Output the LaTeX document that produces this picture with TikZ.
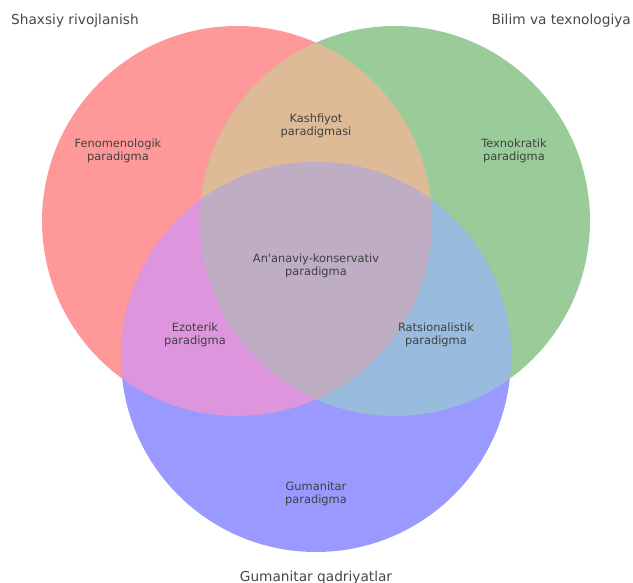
\documentclass[tikz,border=0pt]{standalone}
\usepackage{fontspec}
\setmainfont{DejaVu Sans}
\usepackage{xcolor}
\usepackage{tikz}

\definecolor{setred}{HTML}{FF9999}
\definecolor{setgreen}{HTML}{99CC99}
\definecolor{setblue}{HTML}{9999FF}
\definecolor{mixrg}{HTML}{DEBB97}
\definecolor{mixrb}{HTML}{DD95DD}
\definecolor{mixgb}{HTML}{99BBDE}
\definecolor{mixall}{HTML}{BFADC4}

\begin{document}
\begin{tikzpicture}[
		x=1pt, y=-1pt,
		% Defining consistent styles
		setlabel/.style={
				inner sep=0pt,
				font=\fontsize{13.7}{16}\selectfont,
				text=black!72
			},
		regionlabel/.style={
				inner sep=0pt,
				align=center,
				font=\fontsize{11.4}{13.2}\selectfont,
				text=black!75
			}
		]
		\useasboundingbox (0,0) rectangle (633,583);

		% Circle centres
		\coordinate (c_red) at (237,221);
		\coordinate (c_green) at (395,221);
		\coordinate (c_blue) at (316,357);

		% Single sets
		\fill[setred] (c_red) circle [radius=195pt];
		\fill[setgreen] (c_green) circle [radius=195pt];
		\fill[setblue] (c_blue) circle [radius=195pt];

		% Green and blue overlap
		\begin{scope}
			\clip (c_green) circle [radius=195pt];
			\fill[mixgb] (c_blue) circle [radius=195pt];
		\end{scope}

		% Red overlaps and centre
		\begin{scope}
			\clip (c_red) circle [radius=195pt];
			\fill[mixrg] (c_green) circle [radius=195pt];
			\fill[mixrb] (c_blue) circle [radius=195pt];
			\clip (c_green) circle [radius=195pt];
			\fill[mixall] (c_blue) circle [radius=195pt];
		\end{scope}

		% Set labels
		\node[setlabel, anchor=west] (lbl_personal) at (11,21) {Shaxsiy rivojlanish};
		\node[setlabel, anchor=east] (lbl_knowledge) at (631,21) {Bilim va texnologiya};
		\node[setlabel, anchor=base] (lbl_humane) at (316,581.5) {Gumanitar qadriyatlar};

		% Region labels
		\node[regionlabel] (phenom) at (118,151) {Fenomenologik\\paradigma};
		\node[regionlabel] (discovery) at (316,126) {Kashfiyot\\paradigmasi};
		\node[regionlabel] (techno) at (514,151) {Texnokratik\\paradigma};
		\node[regionlabel] (tradition) at (316,265.5) {An\textquotesingle anaviy-konservativ\\paradigma};
		\node[regionlabel] (esoteric) at (195,335) {Ezoterik\\paradigma};
		\node[regionlabel] (rational) at (436,335) {Ratsionalistik\\paradigma};
		\node[regionlabel] (humanist) at (316,494) {Gumanitar\\paradigma};

	\end{tikzpicture}
\end{document}
